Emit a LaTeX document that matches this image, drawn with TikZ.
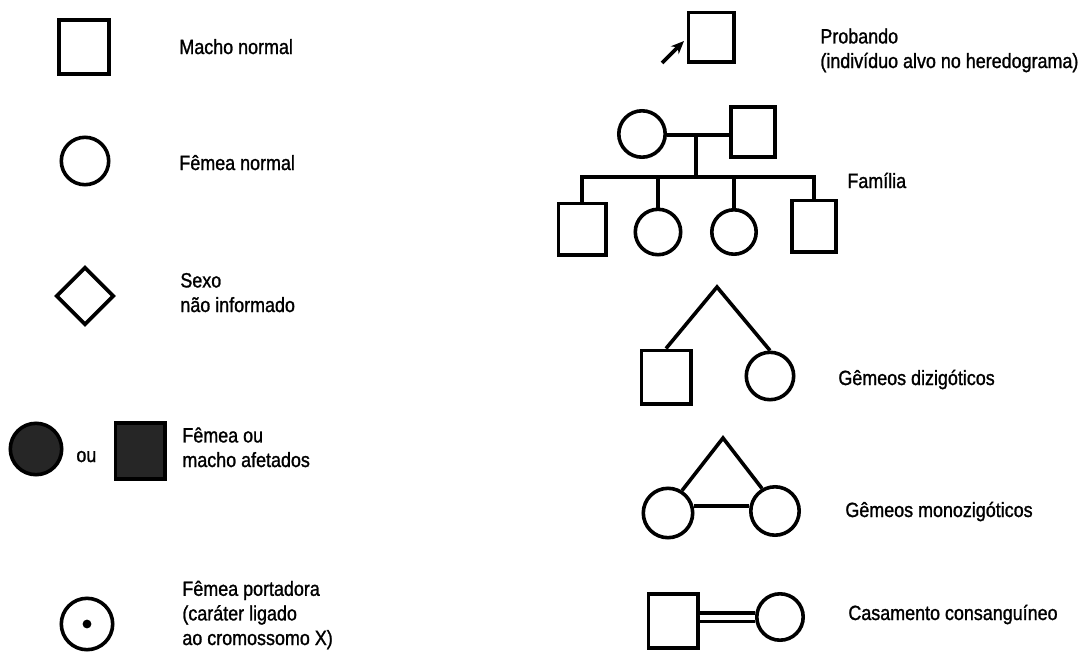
\documentclass[tikz,border=0pt]{standalone}
\usepackage{fontspec}
\setmainfont{Liberation Sans}[FakeStretch=0.87, FakeBold=1.2]
\usetikzlibrary{shapes.geometric,arrows.meta}
\begin{document}
\begin{tikzpicture}[x=0.5pt,y=-0.5pt]
  \tikzset{male/.style={draw, rectangle, line width=1.8pt, minimum width=24.5pt, minimum height=26.5pt, inner sep=0pt},
    female/.style={draw, circle, line width=1.8pt, minimum size=23.5pt, inner sep=0pt},
    unknown/.style={draw, diamond, line width=1.8pt, minimum size=29pt, inner sep=0pt},
    affected/.style={fill=black!85},
    legend/.style={anchor=base west, align=left, inner sep=0pt, font=\fontsize{10.3}{12.3}\selectfont},
    link/.style={line width=1.8pt}}
  \useasboundingbox (0,0) rectangle (1083,654);
  \node[male, minimum width=25.2pt, minimum height=27.2pt] (macho) at (84,47) {};
  \node[legend] (macholbl) at (179,54) {Macho normal};
  \node[female, minimum size=23.7pt] (femea) at (85,161) {};
  \node[legend] (femealbl) at (179,170) {Fêmea normal};
  \node[unknown] (sexo) at (85,296) {};
  \node[legend] (sexolbl) at (180,312) {Sexo\\não informado};
  \node[female, affected, minimum size=25.7pt] (femeaaf) at (36,449) {};
  \node[legend] (ou) at (76,462) {ou};
  \node[male, affected, minimum width=24.7pt, minimum height=28.2pt] (machoaf) at (140,451) {};
  \node[legend] (afetadoslbl) at (182,467) {Fêmea ou\\macho afetados};
  \node[female, minimum size=25.7pt] (portadora) at (87,624) {};
  \fill (portadora.center) circle (2.2pt);
  \node[legend] (portadoralbl) at (182,645) {Fêmea portadora\\(caráter ligado\\ao cromossomo X)};
  \node[male, minimum width=22.7pt, minimum height=24.7pt] (probando) at (711,37) {};
  \coordinate (setaini) at (662,63);
  \coordinate (setafim) at (684,41);
  \draw[link, -{Stealth[length=6.5pt, width=5.5pt]}] (setaini) -- (setafim);
  \node[legend] (probandolbl) at (820,68) {Probando\\(indivíduo alvo no heredograma)};
  \node[female, minimum size=23.2pt] (mae) at (642,134) {};
  \node[male, minimum width=22.2pt, minimum height=25.2pt] (pai) at (753,132) {};
  \coordinate (casal) at (696,135);
  \coordinate (irmandade) at (696,177);
  \draw[link] (mae.east |- casal) -- (pai.west |- casal);
  \draw[link] (casal) -- (irmandade);
  \node[male, minimum width=23.7pt, minimum height=25.7pt] (filho1) at (582,229) {};
  \node[female, minimum size=22.7pt] (filha2) at (658,232) {};
  \node[female, minimum size=22.2pt] (filha3) at (734,232) {};
  \node[male, minimum width=22.2pt, minimum height=25.7pt] (filho4) at (814,226) {};
  \draw[link] (filho1.north) -- (filho1.north |- irmandade) -- (filho4.north |- irmandade) -- (filho4.north);
  \draw[link] (filha2.north) -- (filha2.north |- irmandade);
  \draw[link] (filha3.north) -- (filha3.north |- irmandade);
  \node[legend] (familialbl) at (847,188) {Família};
  \coordinate (dizigapice) at (717,287);
  \node[male, minimum width=24.7pt, minimum height=26.7pt] (dizig1) at (666,377) {};
  \node[female, minimum size=23.7pt] (dizig2) at (770,376) {};
  \draw[link] (dizig1.north) -- (dizigapice) -- (dizig2.north);
  \node[legend] (dizilbl) at (838,385) {Gêmeos dizigóticos};
  \coordinate (monoapice) at (723,438);
  \node[female, minimum size=24.7pt] (mono1) at (668,513) {};
  \node[female, minimum size=24.2pt] (mono2) at (775,511) {};
  \draw[link] (mono1.58) -- (monoapice) -- (mono2.120);
  \draw[link] (mono1.15) -- (mono1.15 -| mono2.west);
  \node[legend] (monolbl) at (845,517) {Gêmeos monozigóticos};
  \node[male, minimum width=24.7pt, minimum height=27.2pt] (consang1) at (673,621) {};
  \node[female, minimum size=23.2pt] (consang2) at (780,617) {};
  \draw[link, double, double distance=2.5pt] (consang2.west -| consang1.east) -- (consang2.west);
  \node[legend] (consanglbl) at (848,620) {Casamento consanguíneo};
\end{tikzpicture}
\end{document}
